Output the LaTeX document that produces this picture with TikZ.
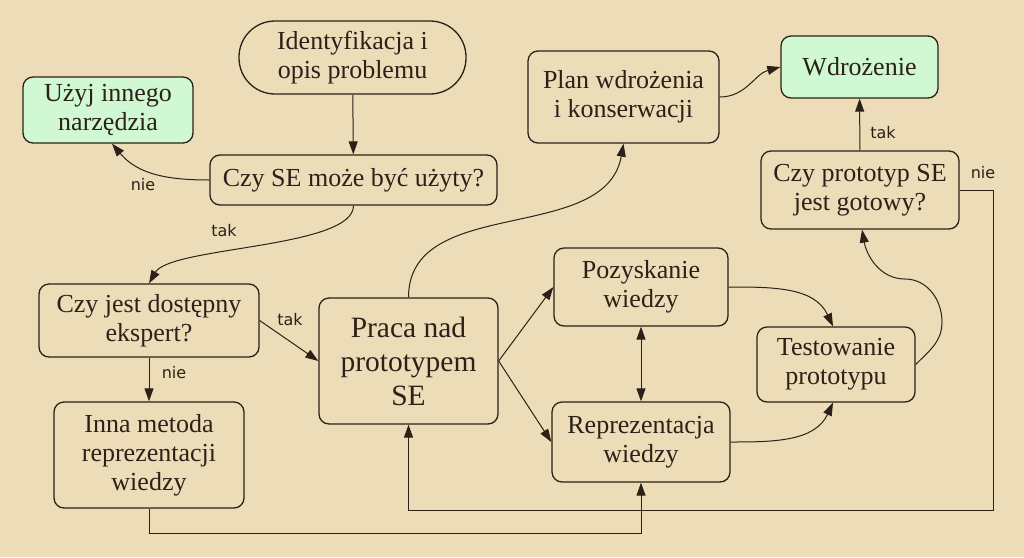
\documentclass[tikz,border=0pt]{standalone}
\usepackage{fontspec}
\setmainfont{Liberation Serif}
\newfontfamily\lblfont{DejaVu Sans}
\usetikzlibrary{arrows.meta}
\definecolor{parch}{HTML}{EDDCB8}
\definecolor{mint}{HTML}{CFF8D3}
\definecolor{ink}{HTML}{2B2118}
\begin{document}
\begin{tikzpicture}[x=1pt,y=1pt,
  box/.style={draw=ink, line width=1.3pt, rounded corners=10pt, align=center, inner sep=0pt,
    font=\fontsize{26}{29}\selectfont, text=ink},
  arr/.style={draw=ink, line width=1pt, -{Triangle[length=13pt,width=9pt]}},
  lbl/.style={font=\lblfont\fontsize{16}{18}\selectfont, text=ink, inner sep=0pt}]
\fill[parch] (0,0) rectangle (1024,-557);
\useasboundingbox (0,0) rectangle (1024,-557);

\node[box, rounded corners=36pt, minimum width=227pt, minimum height=73pt] (id) at (352.5,-57.5) {Identyfikacja i\\opis problemu};
\node[box, fill=mint, minimum width=170pt, minimum height=66pt] (uzyj) at (108,-110) {Użyj innego\\narzędzia};
\node[box, minimum width=287pt, minimum height=50pt] (czyse) at (353.5,-180) {Czy SE może być użyty?};
\node[box, minimum width=220pt, minimum height=73pt] (czyje) at (149,-320.5) {Czy jest dostępny\\ekspert?};
\node[box, minimum width=190pt, minimum height=106pt] (inna) at (149,-455) {Inna metoda\\reprezentacji\\wiedzy};
\node[box, minimum width=179pt, minimum height=126pt, font=\fontsize{29.5}{34}\selectfont] (praca) at (408.5,-361) {Praca nad\\prototypem\\SE};
\node[box, minimum width=191pt, minimum height=92pt] (plan) at (623.5,-97) {Plan wdrożenia\\i konserwacji};
\node[box, fill=mint, minimum width=157pt, minimum height=62pt] (wdr) at (859.5,-67) {Wdrożenie};
\node[box, minimum width=198pt, minimum height=78pt] (czypr) at (860,-190) {Czy prototyp SE\\jest gotowy?};
\node[box, minimum width=174pt, minimum height=78pt] (pozy) at (641,-287) {Pozyskanie\\wiedzy};
\node[box, minimum width=178pt, minimum height=80pt] (repr) at (641,-442) {Reprezentacja\\wiedzy};
\node[box, minimum width=158pt, minimum height=75pt] (test) at (836,-364.5) {Testowanie\\prototypu};

\coordinate (rb) at (993,-510);
\coordinate (t1) at (942,-322);
\coordinate (t2) at (905,-279);

\draw[arr] (id) -- (czyse);
\draw[arr] (czyse.west) to[out=180,in=-50] ([xshift=4pt]uzyj.south);
\draw[arr] (czyse.south) to[out=-90,in=60,looseness=0.5] (czyje.north);
\draw[arr] (czyje.east) -- (praca.west);
\draw[arr] (czyje) -- (inna);
\draw[arr] (inna.south) -- ++(0,-25) -| (repr.south);
\draw[arr] (czypr.east) -| (rb) -| (praca.south);
\draw[arr] (praca.north) to[out=90,in=-100] (plan.south);
\draw[arr] (plan.east) to[out=0,in=195] (wdr.west);
\draw[arr] (czypr) -- (wdr);
\draw[arr] (praca.east) -- (pozy.west);
\draw[arr] (praca.east) -- (repr.west);
\draw[draw=ink, line width=1pt, {Triangle[length=13pt,width=9pt]}-{Triangle[length=13pt,width=9pt]}] (pozy) -- (repr);
\draw[arr] (pozy.east) to[out=0,in=115] ([xshift=-3pt]test.north);
\draw[arr] (repr.east) to[out=0,in=-115] ([xshift=-3pt]test.south);
\draw[arr] (test.east) to[out=45,in=-90] (t1) to[out=90,in=0] (t2) to[out=180,in=-80] ([xshift=2pt]czypr.south);

\node[lbl] (l1) at (143,-185) {nie};
\node[lbl] (l2) at (224,-231) {tak};
\node[lbl] (l3) at (290,-320) {tak};
\node[lbl] (l4) at (174,-373) {nie};
\node[lbl] (l5) at (883,-133) {tak};
\node[lbl] (l6) at (983,-173) {nie};
\end{tikzpicture}
\end{document}
